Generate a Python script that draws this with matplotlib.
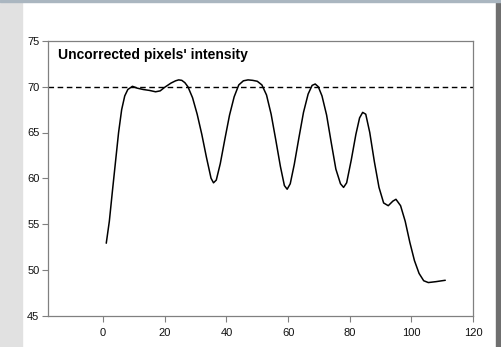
import matplotlib
matplotlib.use("Agg")
import matplotlib.pyplot as plt
from matplotlib.patches import Rectangle

# Pixel position along the profile and the measured (uncorrected) intensity
position = [1, 2, 3, 4, 5, 6, 7, 8, 9.5, 11, 13, 15, 17, 18.5, 20, 22, 23.5,
            24.5, 25.5, 26.5, 27.5, 29, 30.5, 32, 33.5, 35, 35.8, 36.7, 38,
            39.5, 41, 42.5, 44, 45.5, 47, 48.5, 50, 51.5, 53, 54.5, 56, 57.5,
            58.8, 59.7, 60.7, 62, 63.5, 65, 66.5, 67.8, 68.8, 69.8, 71, 72.5,
            74, 75.5, 77, 78, 79, 80.5, 82, 83.2, 84.2, 85.2, 86.5, 88, 89.5,
            91, 92.5, 94, 95, 96.5, 98, 99.5, 101, 102.5, 104, 105.5, 108, 111]
intensity = [52.9, 55.3, 58.6, 61.8, 65.0, 67.5, 69.0, 69.7, 70.05, 69.85,
             69.7, 69.6, 69.45, 69.55, 69.95, 70.4, 70.65, 70.75, 70.7, 70.45,
             70.0, 68.8, 67.0, 64.8, 62.3, 60.0, 59.5, 59.8, 61.6, 64.3, 66.9,
             68.9, 70.2, 70.65, 70.75, 70.7, 70.6, 70.2, 69.1, 67.0, 64.2,
             61.3, 59.2, 58.8, 59.4, 61.5, 64.4, 67.2, 69.2, 70.15, 70.3, 70.0,
             69.0, 66.9, 63.9, 61.0, 59.4, 59.0, 59.5, 62.0, 64.8, 66.6, 67.2,
             67.0, 65.0, 61.8, 59.0, 57.3, 57.0, 57.5, 57.7, 57.0, 55.3, 53.0,
             51.0, 49.6, 48.8, 48.6, 48.7, 48.85]
threshold = 70

x_ticks = [0, 20, 40, 60, 80, 100, 120]
y_ticks = [45, 50, 55, 60, 65, 70, 75]
title = "Uncorrected pixels' intensity"

W, H = 501, 347
fig = plt.figure(figsize=(W / 100, H / 100), dpi=100, facecolor="white")

# slide background around the white panel
fig.patches.append(Rectangle((0, 0), 22 / W, 1, transform=fig.transFigure,
                             color="#e1e1e1", zorder=0))
fig.patches.append(Rectangle((496 / W, 0), 5 / W, 1, transform=fig.transFigure,
                             color="#6f6f6f", zorder=0))
fig.patches.append(Rectangle((0, 1 - 2 / H), 1, 2 / H, transform=fig.transFigure,
                             color="#aab6c0", zorder=0))

ax = fig.add_axes([47.7 / W, 1 - 315.5 / H, (473 - 47.7) / W, (315.5 - 41) / H])
ax.set_facecolor("white")

ax.plot(position, intensity, color="black", lw=1.1, solid_joinstyle="round",
        solid_capstyle="round")
ax.axhline(threshold, color="black", lw=1.0, dashes=(4, 2.6))

ax.set_xlim(-18, 120)
ax.set_ylim(45, 75)
ax.set_xticks(x_ticks)
ax.set_yticks(y_ticks)

for s in ax.spines.values():
    s.set_color("#808080")
    s.set_linewidth(0.9)

ax.tick_params(direction="out", length=4, width=0.8, color="#808080",
               labelsize=8, labelcolor="#111111", pad=2)
for lab in ax.get_xticklabels() + ax.get_yticklabels():
    lab.set_fontfamily("Liberation Sans")
ax.tick_params(axis="x", pad=5)

ax.text(57.5 / W, 1 - 55 / H, title, transform=fig.transFigure,
        fontsize=10, fontweight="bold", family="Liberation Sans",
        ha="left", va="center", color="black")

fig.savefig("out.png", dpi=100, facecolor=fig.get_facecolor())
